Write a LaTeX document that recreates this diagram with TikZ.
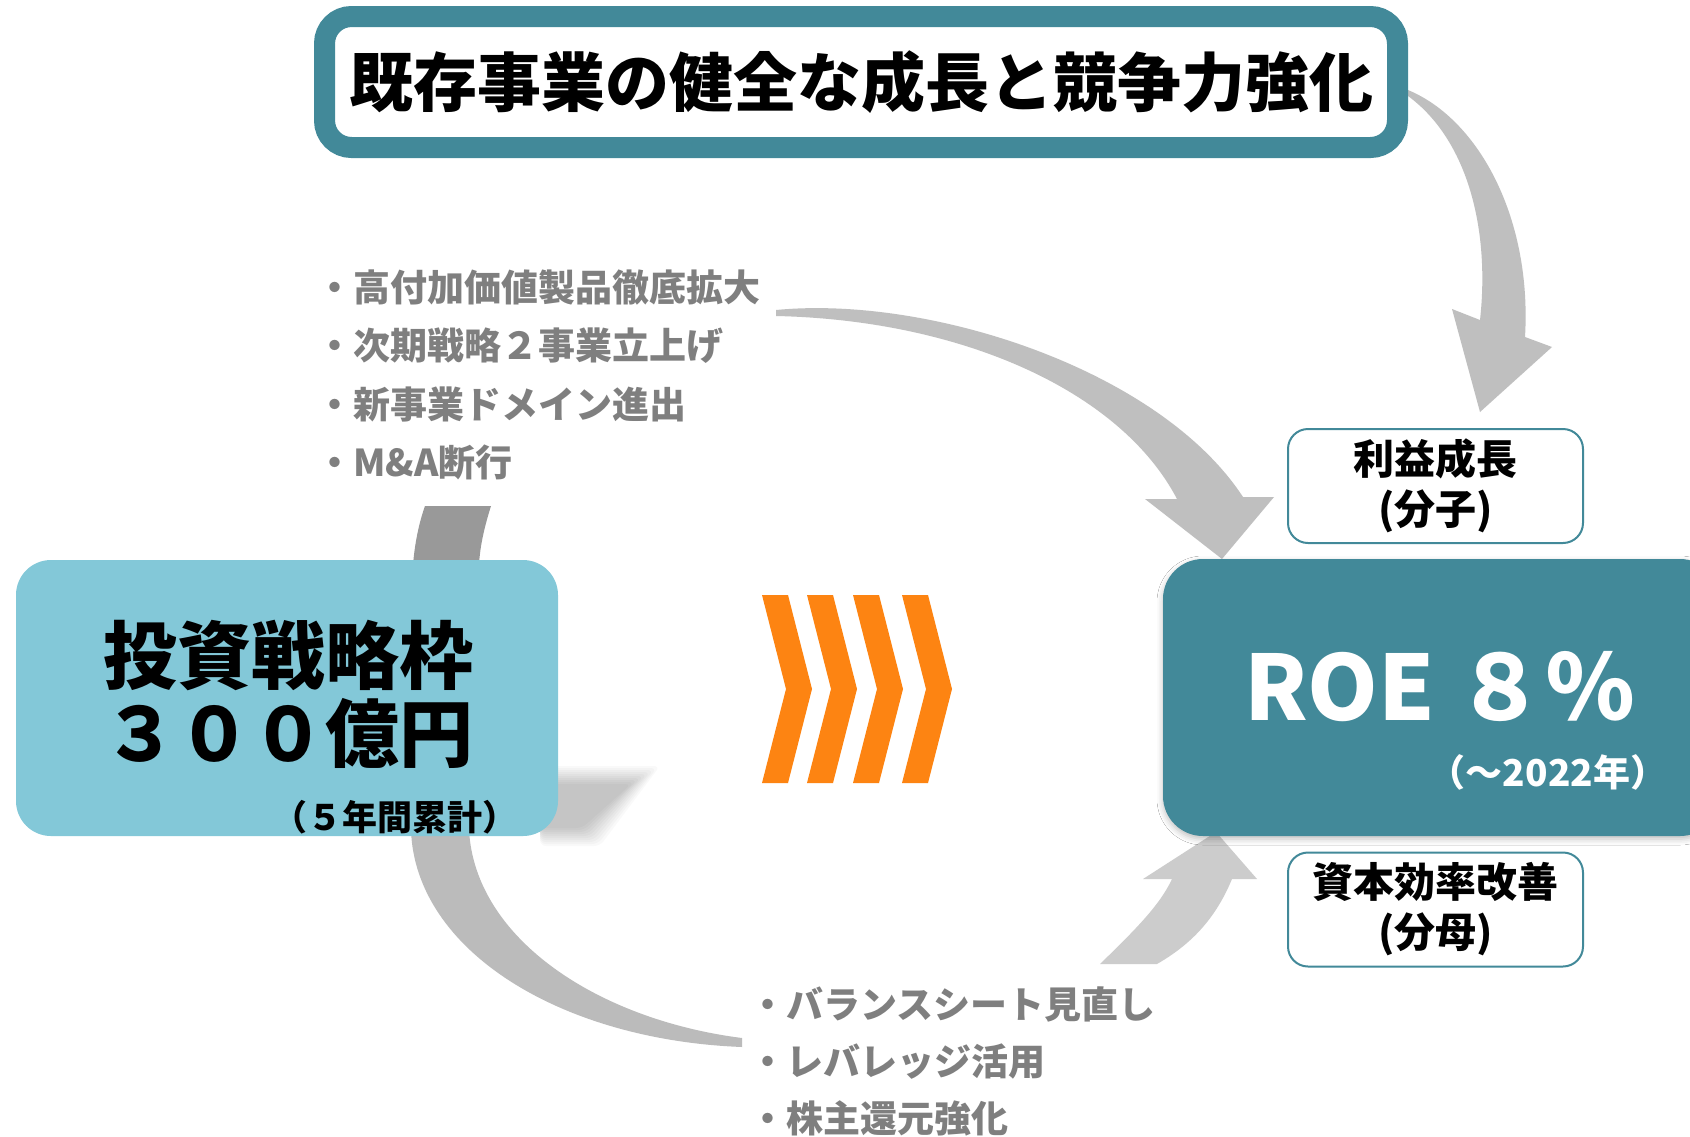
\documentclass[tikz,border=0pt]{standalone}
\usepackage{fontspec}
\setmainfont{Noto Sans CJK JP}
\usetikzlibrary{positioning,shadows.blur}
\definecolor{petrol}{HTML}{428999}
\definecolor{hellblau}{HTML}{83C8D8}
\definecolor{pfeilorange}{HTML}{FD8412}
\definecolor{textgrau}{HTML}{7F7F7F}
\definecolor{bogengrau}{HTML}{BFBFBF}
\tikzset{
	titelbox/.style={draw=petrol,line width=21pt,fill=white,rounded corners=27pt,
		minimum width=1073pt,minimum height=131pt,inner sep=0pt,
		font=\fontsize{64}{70}\selectfont\bfseries},
	kennzahl/.style={draw=petrol,line width=2pt,fill=white,rounded corners=20pt,
		minimum width=295pt,minimum height=114pt,align=center,inner sep=0pt,
		font=\fontsize{41}{50}\selectfont\bfseries},
	massnahmetext/.style={anchor=west,text=textgrau,inner sep=0pt,
		font=\fontsize{37}{37}\selectfont\bfseries},
}
\begin{document}
\begin{tikzpicture}[x=1pt,y=-1pt]
\useasboundingbox (0,0) rectangle (1690,1136);
\fill[white] (0,0) rectangle (1690,1136);
% curved arrows
\fill[bogengrau] (1408,90) .. controls (1480,120) and (1532,220) .. (1525,337)
	-- (1552,347) -- (1480,412) -- (1452,309) -- (1480,320)
	.. controls (1490,230) and (1468,140) .. (1408,96) -- cycle;
\fill[bogengrau] (776,310) .. controls (930,295) and (1160,370) .. (1243,497)
	-- (1274,497) -- (1222,559) -- (1145,499) -- (1177,499)
	.. controls (1120,390) and (960,320) .. (776,316) -- cycle;
\fill[color={rgb,255:red,187;green,187;blue,187}] (411,830) .. controls (415,950) and (560,1040) .. (742,1047)
	-- (742,1038) .. controls (600,1020) and (475,940) .. (469,830) -- cycle;
\fill[color={rgb,255:red,204;green,204;blue,204}] (1100,964) .. controls (1135,930) and (1160,905) .. (1172,879)
	-- (1143,879) -- (1216,832) -- (1257,879) -- (1232,879)
	.. controls (1215,920) and (1190,945) .. (1157,964) -- cycle;
\fill[color={rgb,255:red,153;green,153;blue,153}] (413,565) .. controls (415,540) and (420,520) .. (425,506)
	-- (491,506) .. controls (485,525) and (480,545) .. (479,565) -- cycle;
% shadow of the left box
\foreach \d in {0,2,...,18}{
	\fill[black,opacity=0.022,rounded corners=6pt] (540,{766+\d}) -- ({660-1.6*\d},{766+\d})
		-- ({600-\d},{846-\d}) -- (540,{846-\d}) -- cycle;
}
% boxes
\node[titelbox] (titel) at (861,82) {既存事業の健全な成長と競争力強化};
\node[fill=hellblau,rounded corners=35pt,minimum width=542pt,minimum height=276pt] (invest) at (287,698) {};
\node[fill=petrol,rounded corners=40pt,minimum width=557pt,minimum height=277pt,
	blur shadow={shadow xshift=0pt,shadow yshift=-3pt,shadow blur radius=6pt,shadow opacity=25}] (roe) at (1441.5,697.5) {};
\node[kennzahl] (gewinn) at (1435.5,486) {利益成長\\(分子)};
\node[kennzahl] (effizienz) at (1435.5,909.5) {資本効率改善\\(分母)};
% texts
\node[align=center,inner sep=0pt,font=\fontsize{74}{78}\selectfont\bfseries] (investtext) at (288,694) {投資戦略枠\\３００億円};
\node[inner sep=0pt,font=\fontsize{35}{35}\selectfont\bfseries] (investsumme) at (395,817) {（５年間累計）};
\node[inner sep=0pt,text=white,font=\fontsize{90}{90}\selectfont\bfseries] (roetext) at (1440,687) {ROE ８％};
\node[inner sep=0pt,text=white,font=\fontsize{37}{37}\selectfont\bfseries] (roejahr) at (1548,772) {（～2022年）};
% chevrons
\foreach \x in {762,807,853,902}{
	\fill[pfeilorange] (\x,595) -- ++(26,0) -- ++(24,94) -- ++(-24,94)
		-- ++(-26,0) -- ++(24,-94) -- cycle;
}
% measures
\def\massnahme#1#2#3#4{
	\node[massnahmetext] (#1) at (#2,#3) {・#4};
}
\massnahme{produkte}{316}{288}{高付加価値製品徹底拡大}
\massnahme{strategie}{316}{346}{次期戦略２事業立上げ}
\massnahme{domain}{316}{404}{新事業ドメイン進出}
\massnahme{mua}{316}{462}{M\&A断行}
\massnahme{bilanz}{749}{1004}{バランスシート見直し}
\massnahme{hebel}{749}{1062}{レバレッジ活用}
\massnahme{rueckgabe}{749}{1118}{株主還元強化}
\end{tikzpicture}
\end{document}
